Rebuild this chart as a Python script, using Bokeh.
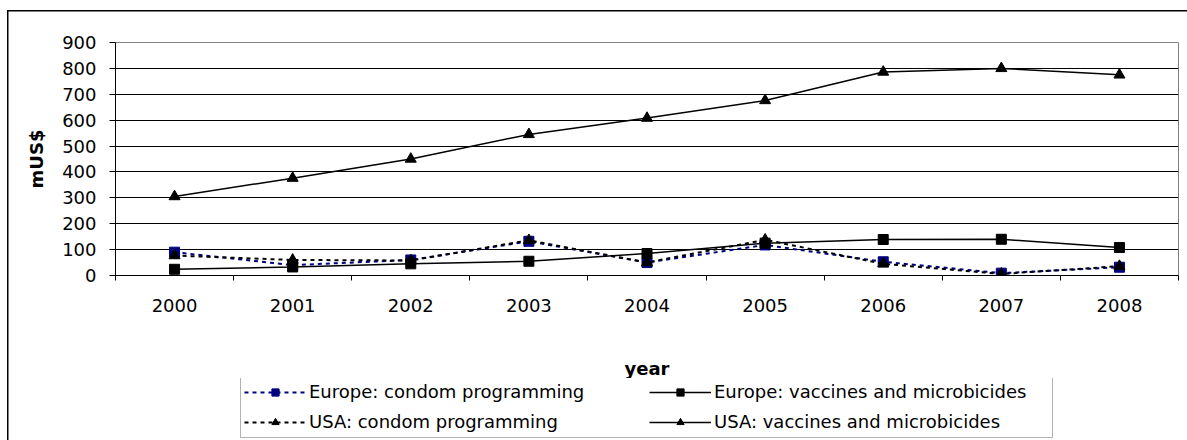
from bokeh.plotting import figure
from bokeh.models import Range1d, FixedTicker, Legend, LegendItem, Title
from bokeh.layouts import column
from bokeh.embed import file_html
from bokeh.resources import INLINE

years = [2000, 2001, 2002, 2003, 2004, 2005, 2006, 2007, 2008]
europe_condom = [90, 40, 60, 132, 50, 118, 53, 9, 32]
europe_vaccines = [24, 33, 45, 55, 85, 125, 139, 140, 108]
usa_condom = [77, 60, 58, 136, 50, 138, 45, 6, 36]
usa_vaccines = [305, 376, 450, 545, 608, 676, 786, 800, 775]

y_ticks = [0, 100, 200, 300, 400, 500, 600, 700, 800, 900]
grid_ticks = [100, 200, 300, 400, 500, 600, 700, 800]
category_edges = [y - 0.5 for y in years] + [years[-1] + 0.5]

series = [
    # label, values, colour, dash, marker
    ("Europe: condom programming", europe_condom, "#000080", "4 4", "square"),
    ("Europe: vaccines and microbicides", europe_vaccines, "black", "solid", "square"),
    ("USA: condom programming", usa_condom, "black", "4 4", "triangle"),
    ("USA: vaccines and microbicides", usa_vaccines, "black", "solid", "triangle"),
]

FONT = "DejaVu Sans"
FS = "18px"
TOP_H = 355

p = figure(width=1187, height=TOP_H, output_backend="svg", toolbar_location=None,
           x_range=Range1d(1999.5, 2008.5), y_range=Range1d(0, 900),
           min_border_left=115, min_border_right=9, min_border_top=42,
           min_border_bottom=TOP_H - 275)
p.background_fill_color = "white"
p.border_fill_alpha = 0
p.outline_line_color = "#808080"
p.outline_line_width = 1

# x axis
p.xaxis.ticker = FixedTicker(ticks=years, minor_ticks=category_edges)
p.xaxis.major_tick_out = 0
p.xaxis.major_tick_in = 0
p.xaxis.minor_tick_out = 5
p.xaxis.minor_tick_in = 0
p.xaxis.minor_tick_line_color = "black"
p.xaxis.axis_line_color = "black"
p.xaxis.major_label_standoff = 18
p.xaxis.major_label_text_font = FONT
p.xaxis.major_label_text_font_size = FS
p.xaxis.major_label_text_color = "black"

# y axis
p.yaxis.ticker = FixedTicker(ticks=y_ticks)
p.yaxis.major_tick_out = 6
p.yaxis.major_tick_in = 0
p.yaxis.minor_tick_out = 0
p.yaxis.minor_tick_in = 0
p.yaxis.major_tick_line_color = "black"
p.yaxis.axis_line_color = "black"
p.yaxis.major_label_standoff = 13
p.yaxis.major_label_text_font = FONT
p.yaxis.major_label_text_font_size = FS
p.yaxis.major_label_text_color = "black"
p.yaxis.axis_label = "mUS$"
p.yaxis.axis_label_text_font = FONT
p.yaxis.axis_label_text_font_size = FS
p.yaxis.axis_label_text_font_style = "bold"
p.yaxis.axis_label_text_color = "black"
p.yaxis.axis_label_standoff = 12

p.xgrid.visible = False
p.ygrid.ticker = FixedTicker(ticks=grid_ticks)
p.ygrid.grid_line_color = "black"
p.ygrid.grid_line_width = 1


def add_series(fig, label, vals, color, dash, marker, small=False):
    lw = 2 if dash != "solid" else 1.5
    ln = fig.line(years, vals, line_color=color, line_dash=dash, line_width=lw)
    if small:
        size = 7 if marker == "square" else 8
    else:
        size = 10 if marker == "square" else 11
    mk = fig.scatter(years, vals, marker=marker, size=size,
                     fill_color=color, line_color=color)
    return ln, mk


for s in series:
    add_series(p, *s)

# legend strip (second figure below, same series drawn outside its view)
q = figure(width=1187, height=440 - TOP_H, output_backend="svg", toolbar_location=None,
           x_range=Range1d(1999.5, 2008.5), y_range=Range1d(-3000, -2000),
           x_axis_type=None, y_axis_type=None,
           min_border_left=115, min_border_right=9, min_border_top=22,
           min_border_bottom=0)
q.background_fill_alpha = 0
q.border_fill_alpha = 0
q.outline_line_color = None
q.grid.visible = False
q.title = Title(text="year", align="center", text_font=FONT, text_font_size=FS,
                text_font_style="bold", text_color="black", standoff=0, offset=0)

rend = {}
for s in series:
    rend[s[0]] = add_series(q, *s, small=True)

order = ["Europe: condom programming", "USA: condom programming",
         "Europe: vaccines and microbicides", "USA: vaccines and microbicides"]
legend = Legend(items=[LegendItem(label=k, renderers=list(rend[k])) for k in order],
                location=(125, 2), orientation="vertical", nrows=2)
legend.margin = 0
legend.padding = 3
legend.spacing = 5
legend.glyph_width = 62
legend.glyph_height = 18
legend.label_height = 25
legend.label_width = 335
legend.label_standoff = 3
legend.label_text_font = FONT
legend.label_text_font_size = FS
legend.label_text_color = "black"
legend.border_line_color = "#666666"
legend.border_line_width = 1
legend.background_fill_color = "white"
legend.background_fill_alpha = 1
q.add_layout(legend, "center")

layout = column(p, q, spacing=0,
                styles={"box-shadow": "inset 7px 10px 0 0 white, inset 8.5px 11.5px 0 0 black",
                        "background-color": "white"})

open("out.html", "w").write(file_html(layout, INLINE))
